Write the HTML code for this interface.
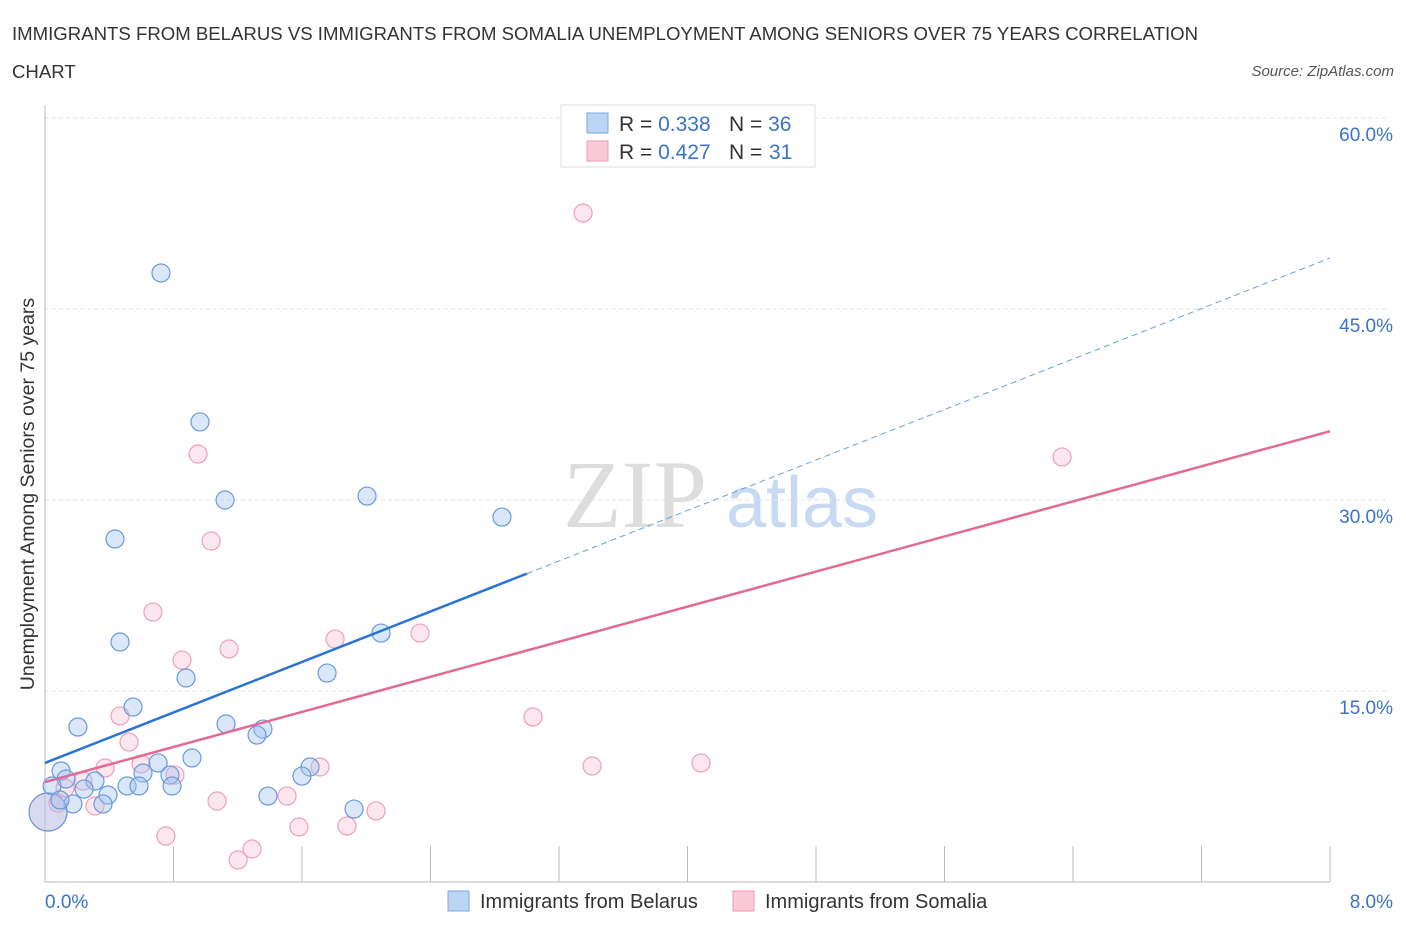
<!DOCTYPE html>
<html><head><meta charset="utf-8"><style>
body{margin:0;background:#fff;width:1406px;height:930px;overflow:hidden;font-family:"Liberation Sans",sans-serif;}
svg text{font-family:"Liberation Sans",sans-serif;}
</style></head><body>
<svg id="c" width="1406" height="930">
<text x="12" y="40" font-size="18.6" fill="#333">IMMIGRANTS FROM BELARUS VS IMMIGRANTS FROM SOMALIA UNEMPLOYMENT AMONG SENIORS OVER 75 YEARS CORRELATION</text>
<text x="12" y="78" font-size="18.6" fill="#333">CHART</text>
<text x="1394" y="76" font-size="15" fill="#555" font-style="italic" text-anchor="end">Source: ZipAtlas.com</text>
<text x="34" y="494" font-size="19.5" fill="#333" text-anchor="middle" transform="rotate(-90 34 494)">Unemployment Among Seniors over 75 years</text>
<g>
<text x="635" y="527" font-size="96" fill="#ddd" text-anchor="middle" style="font-family:'Liberation Serif',serif">ZIP</text>
<text x="802" y="527" font-size="72" fill="#c8daf2" text-anchor="middle">atlas</text>
</g>
<g id="grid"></g><g id="marks"></g>
<g>
<rect x="561" y="105" width="254" height="62" fill="#fff" stroke="#ddd"/>
<rect x="587" y="113" width="21" height="20" fill="#bcd5f5" stroke="#7aa6e0"/>
<rect x="587" y="141" width="21" height="20" fill="#fbcad8" stroke="#ee9ab6"/>
<text x="619" y="131" font-size="21" fill="#333">R = <tspan fill="#3b73cc">0.338</tspan><tspan x="729">N = </tspan><tspan fill="#3b73cc">36</tspan></text>
<text x="619" y="159" font-size="21" fill="#333">R = <tspan fill="#3b73cc">0.427</tspan><tspan x="729">N = </tspan><tspan fill="#3b73cc" x="769">31</tspan></text>
</g>
<g>
<rect x="448" y="891" width="21" height="20" fill="#bcd5f5" stroke="#7aa6e0"/>
<text x="480" y="908" font-size="20" fill="#333">Immigrants from Belarus</text>
<rect x="733" y="891" width="21" height="20" fill="#fbcad8" stroke="#ee9ab6"/>
<text x="765" y="908" font-size="20" fill="#333">Immigrants from Somalia</text>
</g>
</svg>
<script>
const xTickLabels=["0.0%","8.0%"];
const yTicks=[15,30,45,60];
const yTickLabels=["15.0%","30.0%","45.0%","60.0%"];
const belarusX=[0.722,0.965,1.121,2.005,2.845,0.436,0.467,2.092,0.878,1.756,0.548,0.205,1.127,1.357,1.320,0.915,0.704,1.650,1.600,0.610,0.778,0.100,0.311,0.131,0.511,0.585,0.791,0.243,0.392,1.388,0.174,0.361,1.924,0.044,0.019,0.093];
const belarusY=[47.83,36.13,30.00,30.31,28.66,26.94,18.85,19.55,16.02,16.41,13.74,12.17,12.41,12.01,11.54,9.74,9.35,9.03,8.32,8.56,8.40,8.72,7.93,8.09,7.54,7.54,7.54,7.30,6.83,6.75,6.13,6.13,5.73,7.54,5.50,6.44];
const belarusBig=[0,0,0,0,0,0,0,0,0,0,0,0,0,0,0,0,0,0,0,0,0,0,0,0,0,0,0,0,0,0,0,0,0,0,1,0];
const somaliaX=[3.350,0.953,6.332,1.034,0.672,2.335,1.806,1.146,0.853,0.467,3.038,0.523,0.374,0.598,0.809,1.712,3.406,4.084,0.125,0.237,0.311,1.071,1.507,2.061,1.581,1.880,0.753,1.289,1.202,0.019,0.081];
const somaliaY=[52.54,33.61,33.38,26.78,21.20,19.55,19.08,18.30,17.43,13.04,12.96,10.99,8.95,9.27,8.40,9.03,9.11,9.35,7.38,7.93,5.97,6.36,6.75,5.58,4.32,4.40,3.61,2.59,1.73,5.50,6.20];
const somaliaBig=[0,0,0,0,0,0,0,0,0,0,0,0,0,0,0,0,0,0,0,0,0,0,0,0,0,0,0,0,0,1,0];
const belarusTrend=[9.35,49.0];
const belarusSolidEnd=3.0;
const somaliaTrend=[7.85,35.4];

const X0=45,X1=1330,Y0=882,Y60=118;
const sx=v=>X0+(v/8)*(X1-X0);
const sy=v=>Y0-(v/60)*(Y0-Y60);
const NS="http://www.w3.org/2000/svg";
function mk(p,t,a){const e=document.createElementNS(NS,t);for(const k in a)e.setAttribute(k,a[k]);p.appendChild(e);return e;}
const g=document.getElementById('grid'),m=document.getElementById('marks');
yTicks.forEach((t,i)=>{
  const l=mk(g,'line',{x1:X0,x2:1390,y1:sy(t),y2:sy(t),stroke:'#e3e3e3','stroke-dasharray':'4,3'});
  
  
  const tx=mk(g,'text',{x:1393,y:sy(t)+23,'font-size':19,fill:'#3b73cc','text-anchor':'end'});
  tx.textContent=yTickLabels[i];
  
  
});
const ax=mk(g,'line',{x1:X0,x2:X0,y1:105,y2:Y0,stroke:'#bbb'});


const bx=mk(g,'line',{x1:X0,x2:X1,y1:Y0,y2:Y0,stroke:'#bbb'});


for(let i=1;i<=10;i++){
  const t=mk(g,'line',{x1:sx(i*0.8),x2:sx(i*0.8),y1:846,y2:Y0,stroke:'#bbb'});
  
  
}
const xl0=mk(g,'text',{x:45,y:908,'font-size':19,fill:'#3b73cc'});xl0.textContent=xTickLabels[0];


const xl1=mk(g,'text',{x:1393,y:908,'font-size':19,fill:'#3b73cc','text-anchor':'end'});xl1.textContent=xTickLabels[1];



function pts(X,Y,B,fill,stroke,name){
  X.forEach((x,i)=>{
    const c=mk(m,'circle',{cx:sx(x),cy:sy(Y[i]),r:B[i]?19:9,fill:fill,stroke:stroke,'stroke-width':1.2});
    
    
  });
}
pts(somaliaX,somaliaY,somaliaBig,'rgba(248,185,205,0.35)','#eda0ba','somalia-point');
pts(belarusX,belarusY,belarusBig,'rgba(160,196,240,0.4)','#6a9ad8','belarus-point');

const by=x=>belarusTrend[0]+(belarusTrend[1]-belarusTrend[0])*x/8;
const sl=mk(m,'line',{x1:sx(0),y1:sy(by(0)),x2:sx(belarusSolidEnd),y2:sy(by(belarusSolidEnd)),stroke:'#2a72d8','stroke-width':2.5});


const dl=mk(m,'line',{x1:sx(belarusSolidEnd),y1:sy(by(belarusSolidEnd)),x2:sx(8),y2:sy(by(8)),stroke:'#6a9ee0','stroke-width':1,'stroke-dasharray':'6,4'});


const pl=mk(m,'line',{x1:sx(0),y1:sy(somaliaTrend[0]),x2:sx(8),y2:sy(somaliaTrend[1]),stroke:'#e46a96','stroke-width':2.5});


</script>
</body></html>
